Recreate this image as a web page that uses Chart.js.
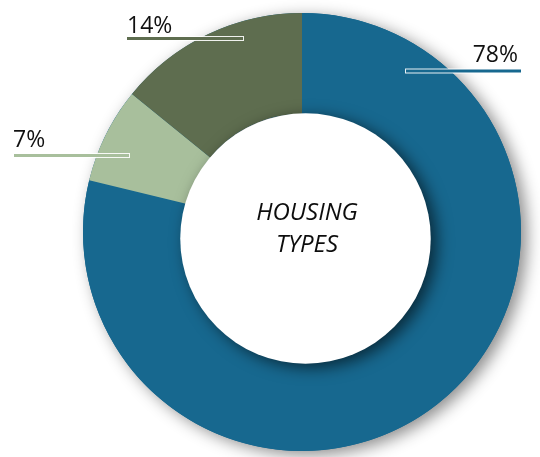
<!DOCTYPE html>
<html>
<head>
<meta charset="utf-8">
<title>Housing Types</title>
<script src="https://cdn.jsdelivr.net/npm/chart.js@4.4.1/dist/chart.umd.min.js"></script>
<style>
  html, body { margin: 0; padding: 0; background: #ffffff; }
  #wrap { width: 540px; height: 457px; position: relative; }
</style>
</head>
<body>
<div id="wrap"><canvas id="housingChart" width="540" height="457"></canvas></div>
<script>
const categories = ["Type A", "Type B", "Type C"];
const shares = [78, 7, 14];
const shareLabels = ["78%", "7%", "14%"];
const centerTitle = ["HOUSING", "TYPES"];

const colors = ["#17688f", "#a8bf9c", "#5e6d4f"];

// where each percentage label and its underline bar sit
const labelLayout = [
  { align: "right", textX: 518, textY: 62, barX1: 405, barX2: 522, barY: 71 },
  { align: "left", textX: 13, textY: 147, barX1: 13, barX2: 130, barY: 155.5 },
  { align: "left", textX: 127, textY: 32.5, barX1: 126, barX2: 244, barY: 38.5 },
];

const ringShadow = {
  id: "ringShadow",
  beforeDatasetsDraw(chart) {
    const arc = chart.getDatasetMeta(0).data[0];
    if (!arc) return;
    const ctx = chart.ctx;
    ctx.save();
    ctx.shadowColor = "rgba(0, 0, 0, 0.45)";
    ctx.shadowBlur = 16;
    ctx.shadowOffsetX = 6;
    ctx.shadowOffsetY = 4;
    ctx.fillStyle = colors[0];
    ctx.beginPath();
    ctx.arc(arc.x, arc.y, arc.outerRadius, 0, Math.PI * 2);
    ctx.arc(arc.x, arc.y, arc.innerRadius, 0, Math.PI * 2, true);
    ctx.fill();
    ctx.restore();
  },
};

const centerDisc = {
  id: "centerDisc",
  afterDatasetsDraw(chart) {
    const arc = chart.getDatasetMeta(0).data[0];
    if (!arc) return;
    const ctx = chart.ctx;
    const cx = arc.x + 3.5;
    const cy = arc.y + 6.5;
    const r = arc.innerRadius + 7;

    // white centre with a soft drop shadow onto the ring
    ctx.save();
    ctx.shadowColor = "rgba(0, 0, 0, 0.6)";
    ctx.shadowBlur = 16;
    ctx.shadowOffsetX = 6;
    ctx.shadowOffsetY = 4;
    ctx.fillStyle = "#ffffff";
    ctx.beginPath();
    ctx.arc(cx, cy, r, 0, Math.PI * 2);
    ctx.fill();
    ctx.restore();

    ctx.save();
    ctx.fillStyle = "#0d0d0d";
    ctx.font = "italic 24px 'Open Sans'";
    ctx.textAlign = "center";
    ctx.textBaseline = "alphabetic";
    ctx.fillText(centerTitle[0], cx + 1.5, cy - 19);
    ctx.fillText(centerTitle[1], cx + 1.5, cy + 13.5);
    ctx.restore();

    // percentage labels with their underline bars
    ctx.save();
    ctx.font = "23px 'Open Sans'";
    ctx.textBaseline = "alphabetic";
    labelLayout.forEach((l, i) => {
      ctx.fillStyle = "rgba(255, 255, 255, 0.9)";
      ctx.fillRect(l.barX1, l.barY - 2.5, l.barX2 - l.barX1, 5);
      ctx.fillStyle = colors[i];
      ctx.fillRect(l.barX1 + 1, l.barY - 1.5, l.barX2 - l.barX1 - 2, 3);

      ctx.fillStyle = "#111111";
      ctx.textAlign = l.align;
      ctx.fillText(shareLabels[i], l.textX, l.textY);
    });
    ctx.restore();
  },
};

const ctx = document.getElementById("housingChart").getContext("2d");

new Chart(ctx, {
  type: "doughnut",
  data: {
    labels: categories,
    datasets: [
      {
        data: shares,
        backgroundColor: colors,
        borderWidth: 0,
        hoverOffset: 0,
        radius: 219,
      },
    ],
  },
  options: {
    responsive: false,
    devicePixelRatio: 1,
    animation: false,
    cutout: "54%",
    rotation: 0,
    layout: {
      padding: { left: 83, right: 19, top: 13, bottom: 6 },
    },
    plugins: {
      legend: { display: false },
      tooltip: { enabled: false },
    },
  },
  plugins: [ringShadow, centerDisc],
});
</script>
</body>
</html>
